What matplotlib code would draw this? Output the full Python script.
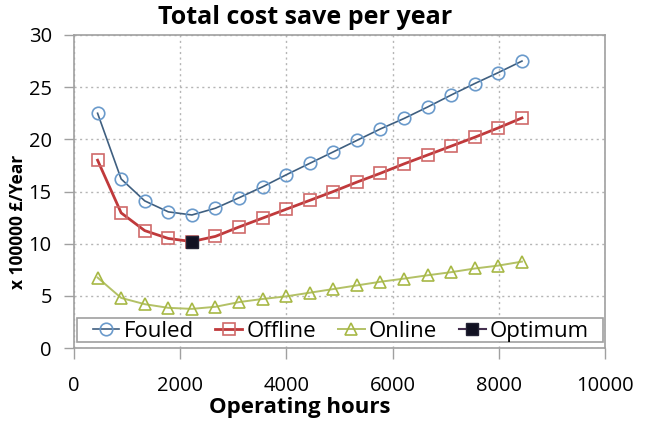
import matplotlib
matplotlib.use("Agg")
import matplotlib.pyplot as plt
from matplotlib.patches import Rectangle

hours = [444, 888, 1332, 1776, 2220, 2664, 3108, 3552, 3996, 4440,
         4884, 5328, 5772, 6216, 6660, 7104, 7548, 7992, 8436]
fouled = [22.5, 16.2, 14.1, 13.05, 12.75, 13.4, 14.4, 15.45, 16.6, 17.7,
          18.8, 19.9, 21.0, 22.0, 23.1, 24.25, 25.35, 26.4, 27.5]
offline = [18.0, 12.95, 11.25, 10.5, 10.2, 10.7, 11.6, 12.45, 13.3, 14.15,
           15.0, 15.9, 16.75, 17.65, 18.5, 19.35, 20.2, 21.1, 22.05]
online = [6.75, 4.8, 4.2, 3.85, 3.75, 3.95, 4.4, 4.7, 4.95, 5.3,
          5.65, 6.0, 6.35, 6.65, 6.97, 7.27, 7.62, 7.9, 8.28]
opt_x = [2220]
opt_y = [10.2]

xticks = [0, 2000, 4000, 6000, 8000, 10000]
yticks = [0, 5, 10, 15, 20, 25, 30]

plt.rcParams['font.family'] = ['Open Sans', 'DejaVu Sans']

fig = plt.figure(figsize=(6.5, 4.21), dpi=100)
ax = fig.add_axes([74/650, 1-348/421, (605-74)/650, (348-35)/421])

ax.plot(hours, fouled, color='#3f5f80', lw=1.2, marker='o', ms=9,
        mfc='none', mec='#6a9acb', mew=1.2, label='Fouled', zorder=3)
ax.plot(hours, offline, color='#c0393b', lw=2.0, marker='s', ms=8.5,
        mfc='none', mec='#cf6a6a', mew=1.2, label='Offline', zorder=3)
ax.plot(hours, online, color='#b3c166', lw=1.4, marker='^', ms=9,
        mfc='none', mec='#a7b845', mew=1.2, label='Online', zorder=3)
ax.plot(opt_x, opt_y, color='#45304f', lw=1.5, marker='s', ms=9,
        mfc='#111122', mec='#222233', label='Optimum', zorder=4)

ax.set_xlim(0, 10000)
ax.set_ylim(0, 30)
ax.set_xticks(xticks)
ax.set_yticks(yticks)
ax.set_xticklabels([str(v) for v in xticks], fontsize=14.5)
ax.set_yticklabels([str(v) for v in yticks], fontsize=14.5)
ax.tick_params(axis='x', length=8, pad=12, color='#a0a0a0', width=1)
ax.tick_params(axis='y', length=7, pad=9, color='#a0a0a0', width=1)
ax.grid(True, color='#b5b5b5', linestyle=(0, (1.5, 2.5)), lw=1)
for s in ax.spines.values():
    s.set_color('#a0a0a0')
    s.set_linewidth(1.2)

frame = Rectangle((3/531, 6/313), 526/531, 24/313, transform=ax.transAxes,
                  facecolor='white', edgecolor='#a0a0a0', lw=1.2, zorder=5)
ax.add_patch(frame)
leg = ax.legend(loc='lower left', bbox_to_anchor=(0.035, 0.02, 0.935, 0.075),
                mode='expand', ncol=4, fontsize=16, frameon=False,
                handlelength=1.2, handletextpad=0.2,
                borderpad=0.0, borderaxespad=0, columnspacing=0.4)
leg.set_zorder(6)

fig.text(305/650, 1-18/421, 'Total cost save per year', ha='center', va='center',
         fontsize=18, fontweight='bold')
fig.text(300/650, 1-408/421, 'Operating hours', ha='center', va='center',
         fontsize=16, fontweight='bold')
fig.text(18/650, 1-222/421, 'x 100000 £/Year', ha='center', va='center',
         rotation=90, fontsize=12.5, fontweight='bold')

fig.savefig('out.png', dpi=100)
